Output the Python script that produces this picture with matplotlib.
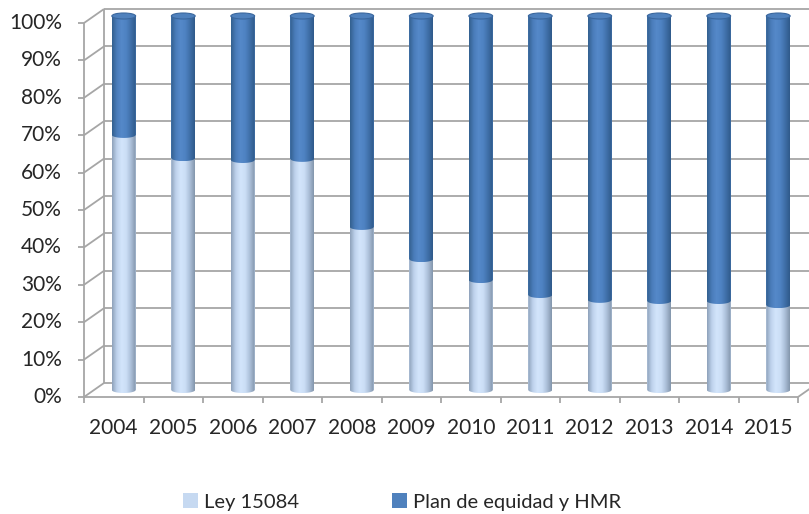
import numpy as np
import matplotlib
matplotlib.use('Agg')
import matplotlib.pyplot as plt
from matplotlib.colors import LinearSegmentedColormap
from matplotlib.patches import PathPatch, Ellipse
from matplotlib.path import Path

plt.rcParams['font.family'] = ['Lato', 'DejaVu Sans']

# data (share of each source, %)
years = ['2004', '2005', '2006', '2007', '2008', '2009',
         '2010', '2011', '2012', '2013', '2014', '2015']
ley = [68.2, 62.0, 61.5, 61.8, 43.6, 35.0, 29.4, 25.4, 24.1, 23.8, 23.8, 22.7]
plan = [100 - v for v in ley]
series = ['Ley 15084', 'Plan de equidad y HMR']
y_ticks = [0, 10, 20, 30, 40, 50, 60, 70, 80, 90, 100]

W, H = 809, 514
fig = plt.figure(figsize=(W / 100, H / 100), dpi=100)
# axes = middle depth plane of the 3D box
ax = fig.add_axes([94 / W, 1 - 390 / H, 714 / W, 374 / H])
ax.set_xlim(0, 12)
ax.set_ylim(0, 100)
ax.axis('off')

# pixel -> data units
ux = 12 / 714
uy = 100 / 374
dx, dy = 10 * ux, 7 * uy  # half depth offset

grid_c = '#a6a6a6'
txt_c = '#262626'
n = len(years)

def line(xs, ys, **kw):
    ax.plot(xs, ys, color=grid_c, lw=1.3, clip_on=False, zorder=1,
            solid_capstyle='butt', **kw)

# back wall gridlines + side wall diagonals
for t in y_ticks:
    line([dx, n + dx + 1], [t + dy, t + dy])
    line([-dx, dx], [t - dy, t + dy])
line([dx, dx], [dy, 100 + dy])
# front axis and floor
line([-dx, -dx], [-dy, 100 - dy])
line([-dx, n - dx], [-dy, -dy])
line([n - dx, n + dx], [-dy, dy])
for t in y_ticks:
    line([-dx - 6 * ux, -dx], [t - dy, t - dy])
    ax.text(-dx - 22 * ux, t - dy, f'{t}%', ha='right', va='center',
            fontsize=15, color=txt_c)
for i in range(n + 1):
    line([i - dx, i - dx], [-dy, -dy - 6 * uy])
for i, yr in enumerate(years):
    ax.text(i + 0.5 - dx, -dy - 31 * uy, yr, ha='center', va='center',
            fontsize=15, color=txt_c)

# bars
x = np.arange(n) + 0.5
bw = 0.40
b1 = ax.bar(x, ley, width=bw, color='#c6d9f1', zorder=2)
b2 = ax.bar(x, plan, bottom=ley, width=bw, color='#4f81bd', zorder=2)

cm_light = LinearSegmentedColormap.from_list(
    'l', ['#8fa2bb', '#bed2ec', '#d3e5fb', '#cbdef6', '#abbfd8', '#8496ac'])
cm_dark = LinearSegmentedColormap.from_list(
    'd', ['#33608f', '#4a7cba', '#5589c9', '#4e82c2', '#3f6fa8', '#2f5a8a'])
grad = np.linspace(0, 1, 64).reshape(1, -1)
ry = 3 * uy  # ellipse half height

def cyl_path(x0, y0, w, h):
    t = np.linspace(np.pi, 2 * np.pi, 40)
    cx = x0 + w / 2
    arc = np.column_stack([cx + w / 2 * np.cos(t), y0 + ry * np.sin(t)])
    verts = [(x0, y0 + h)] + arc.tolist() + [(x0 + w, y0 + h), (x0, y0 + h)]
    codes = [Path.MOVETO] + [Path.LINETO] * (len(verts) - 2) + [Path.CLOSEPOLY]
    return Path(verts, codes)

for cont, cmap in [(b1, cm_light), (b2, cm_dark)]:
    for p in cont:
        x0, y0, w, h = p.get_x(), p.get_y(), p.get_width(), p.get_height()
        clip = PathPatch(cyl_path(x0, y0, w, h), transform=ax.transData,
                         facecolor='none', edgecolor='none')
        im = ax.imshow(grad, cmap=cmap, aspect='auto', zorder=3,
                       extent=[x0, x0 + w, y0 - ry, y0 + h], interpolation='bilinear')
        im.set_clip_box(fig.bbox)
        im.set_clip_path(clip)

# top caps
for p in b2:
    cx = p.get_x() + p.get_width() / 2
    ax.add_patch(Ellipse((cx, p.get_y() + p.get_height()), p.get_width(), 2 * ry,
                         facecolor='#4f81bd', edgecolor='#3a679e', lw=0.8, zorder=4,
                         clip_on=False))

ax.set_xlim(0, 12)
ax.set_ylim(0, 100)

fig.legend([b1, b2], series, loc='center', bbox_to_anchor=(0.497, 1 - 502 / H),
           ncol=2, frameon=False, fontsize=14.5, handlelength=0.75, handleheight=0.75,
           handletextpad=0.3, columnspacing=4.6, labelcolor=txt_c)

fig.savefig('out.png', dpi=100, facecolor='white')
